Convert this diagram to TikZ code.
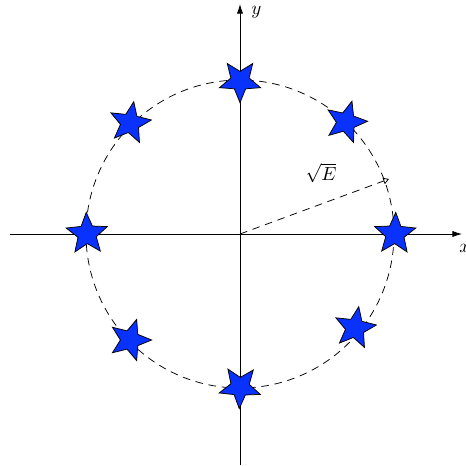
\documentclass[tikz,border=0pt]{standalone}
\usetikzlibrary{shapes.geometric,arrows.meta}
\definecolor{starblue}{RGB}{10,50,255}
\begin{document}
\begin{tikzpicture}[x=0.0185cm,y=-0.0185cm,
  axis/.style={line width=0.4pt,-{Latex[length=5pt,width=3.2pt]}},
  starnode/.style={star,star points=5,star point ratio=2.25,minimum size=0.8cm,inner sep=0pt,fill=starblue,draw=black,line width=0.4pt},
  dline/.style={dash pattern=on 4pt off 3pt,line width=0.4pt}]
\useasboundingbox (0,0) rectangle (466,466);
\coordinate (O) at (240,234);
\coordinate (xs) at (10,234);
\coordinate (xe) at (462,234);
\coordinate (ys) at (240,465);
\coordinate (ye) at (240,4);
\draw[axis] (xs) -- (xe);
\draw[axis] (ys) -- (ye);
\node[anchor=west,inner sep=1pt] (xl) at (457,248) {$x$};
\node[anchor=west,inner sep=1pt] (yl) at (249,12) {$y$};
\draw[dline] (O) circle[radius=154];
\coordinate (rE) at (389,179);
\draw[dline,-{Triangle[open,length=3pt,width=3.5pt]}] (O) -- (rE);
\node (lab) at (321,173) {$\sqrt{E}$};
\node[starnode,rotate=-2] (s0) at (395,234) {};
\node[starnode,rotate=-16] (s1) at (346,122) {};
\node[starnode,rotate=180] (s2) at (240,81) {};
\node[starnode,rotate=-10] (s3) at (130,123) {};
\node[starnode,rotate=2] (s4) at (87,234) {};
\node[starnode,rotate=-18] (s5) at (130,340) {};
\node[starnode,rotate=178] (s6) at (240,387) {};
\node[starnode,rotate=-10] (s7) at (355,328) {};
\end{tikzpicture}
\end{document}
